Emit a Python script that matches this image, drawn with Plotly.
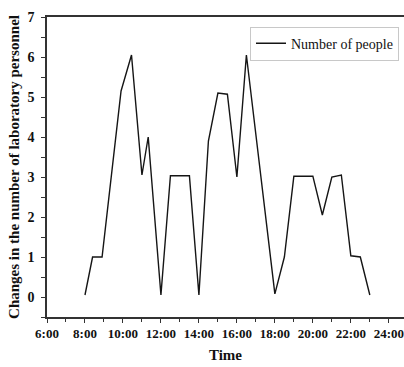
import plotly.graph_objects as go

# Time in decimal hours
hours = [8.0, 8.4, 8.9, 9.9, 10.45, 11.0, 11.33, 12.0, 12.5, 13.5, 14.0, 14.5,
         15.0, 15.5, 16.0, 16.5, 18.0, 18.5, 19.0, 20.0, 20.5, 21.0, 21.5,
         22.0, 22.5, 23.0]
people = [0.05, 1.0, 1.0, 5.15, 6.05, 3.05, 4.0, 0.05, 3.03, 3.03, 0.05, 3.9,
          5.1, 5.07, 3.0, 6.05, 0.08, 1.0, 3.02, 3.02, 2.05, 3.0, 3.05,
          1.03, 1.0, 0.05]

x_tickvals = [6, 8, 10, 12, 14, 16, 18, 20, 22, 24]
x_ticktext = ["6:00", "8:00", "10:00", "12:00", "14:00", "16:00", "18:00",
              "20:00", "22:00", "24:00"]
y_tickvals = [0, 1, 2, 3, 4, 5, 6, 7]
y_ticktext = ["0", "1", "2", "3", "4", "5", "6", "7"]

serif = "Liberation Serif, Times New Roman, serif"

fig = go.Figure()
fig.add_trace(go.Scatter(
    x=hours, y=people, mode="lines", name="Number of people",
    line=dict(color="#151515", width=1.4),
))

fig.update_layout(
    width=404, height=367,
    margin=dict(l=47, r=0, t=17, b=50),
    paper_bgcolor="white", plot_bgcolor="white",
    showlegend=True,
    legend=dict(
        x=0.986, y=0.968, xanchor="right", yanchor="top",
        bgcolor="white", bordercolor="#c8c8c8", borderwidth=1,
        font=dict(family=serif, size=14, color="#111111"),
        itemwidth=30, tracegroupgap=0,
    ),
    xaxis=dict(
        range=[6, 24.8],
        tickvals=x_tickvals, ticktext=["<b>%s</b>" % t for t in x_ticktext],
        showgrid=False, zeroline=False,
        showline=True, linecolor="#333333", linewidth=1.5, mirror=True,
        ticks="outside", ticklen=4, tickwidth=1.2, tickcolor="#333333",
        minor=dict(dtick=1, ticks="outside", ticklen=3, tickwidth=1, tickcolor="#333333"),
        tickfont=dict(family=serif, size=13, color="#111111"),
        title=dict(text="<b>Time</b>", font=dict(family=serif, size=15, color="#111111"),
                   standoff=9),
    ),
    yaxis=dict(
        range=[-0.5, 7],
        tickvals=y_tickvals, ticktext=["<b>%s</b>" % t for t in y_ticktext],
        showgrid=False, zeroline=False,
        showline=True, linecolor="#333333", linewidth=1.5,
        ticks="outside", ticklen=4, tickwidth=1.2, tickcolor="#333333",
        minor=dict(dtick=0.5, ticks="outside", ticklen=4, tickwidth=1, tickcolor="#333333"),
        tickfont=dict(family=serif, size=14, color="#111111"),
        ticklabelstandoff=4,
        title=dict(text="<b>Changes in the number of laboratory personnel</b>",
                   font=dict(family=serif, size=15, color="#111111"), standoff=4),
    ),
)

fig.write_html("out.html")
